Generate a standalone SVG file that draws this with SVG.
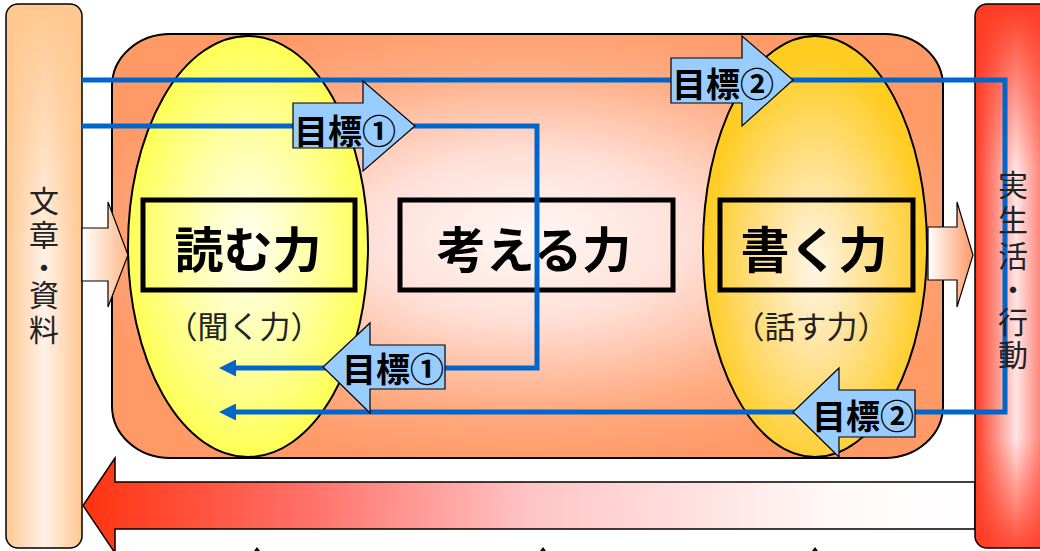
<svg xmlns="http://www.w3.org/2000/svg" width="1040" height="551" viewBox="0 0 1040 551">
<style>
.jp{font-family:"Noto Sans CJK JP","Noto Sans CJK SC",sans-serif;}
.big{font-size:49px;font-weight:bold;fill:#000;text-anchor:middle;}
.sub{font-size:31px;fill:#222;text-anchor:middle;}
.vt{font-size:30px;fill:#222;text-anchor:middle;}
.goal{font-size:34px;font-weight:bold;fill:#000;}
.box{fill:none;stroke:#000;stroke-width:5;}
.barrow{fill:#99CCFF;stroke:#000;stroke-width:1.2;}
.blue{fill:none;stroke:#0066CC;stroke-width:5;}
</style>
<defs>
<radialGradient id="gCenter" cx="0.5" cy="0.48" r="0.55">
<stop offset="0" stop-color="#FFF8F6"/>
<stop offset="0.35" stop-color="#FFE0D8"/>
<stop offset="0.75" stop-color="#FFAA80"/>
<stop offset="1" stop-color="#FF9966"/>
</radialGradient>
<radialGradient id="gYellow" cx="0.5" cy="0.5" r="0.5">
<stop offset="0" stop-color="#FFFFF4"/>
<stop offset="0.5" stop-color="#FFFFAA"/>
<stop offset="1" stop-color="#FFFF55"/>
</radialGradient>
<radialGradient id="gGold" cx="0.5" cy="0.55" r="0.5">
<stop offset="0" stop-color="#FFF6E8"/>
<stop offset="0.5" stop-color="#FFE08A"/>
<stop offset="1" stop-color="#FFCC22"/>
</radialGradient>
<linearGradient id="gLeftPanel" x1="0" y1="0" x2="1" y2="0">
<stop offset="0" stop-color="#FFC890"/>
<stop offset="0.5" stop-color="#FFF2E8"/>
<stop offset="1" stop-color="#FFC890"/>
</linearGradient>
<linearGradient id="gLeftTop" x1="0" y1="0" x2="0" y2="1">
<stop offset="0" stop-color="#FFC890" stop-opacity="1"/>
<stop offset="0.45" stop-color="#FFC890" stop-opacity="0"/>
</linearGradient>
<linearGradient id="gRightPanel" x1="975" y1="0" x2="1050" y2="0" gradientUnits="userSpaceOnUse">
<stop offset="0" stop-color="#FF3A22"/>
<stop offset="0.55" stop-color="#FFE4E4"/>
<stop offset="1" stop-color="#FF6050"/>
</linearGradient>
<linearGradient id="gRightTop" x1="0" y1="0" x2="0" y2="1">
<stop offset="0" stop-color="#FF3A22" stop-opacity="1"/>
<stop offset="0.3" stop-color="#FF3A22" stop-opacity="0"/>
<stop offset="0.8" stop-color="#FF3A22" stop-opacity="0"/>
<stop offset="1" stop-color="#FF3A22" stop-opacity="0.9"/>
</linearGradient>
<linearGradient id="gBottom" x1="83" y1="0" x2="975" y2="0" gradientUnits="userSpaceOnUse">
<stop offset="0" stop-color="#FF3311"/>
<stop offset="0.25" stop-color="#FF7068"/>
<stop offset="0.5" stop-color="#FFC4C4"/>
<stop offset="0.85" stop-color="#FFFAFA"/>
<stop offset="1" stop-color="#FFFFFF"/>
</linearGradient>
<linearGradient id="gIn" x1="82" y1="0" x2="128" y2="0" gradientUnits="userSpaceOnUse">
<stop offset="0" stop-color="#FFFFFF"/>
<stop offset="1" stop-color="#FFB888"/>
</linearGradient>
<linearGradient id="gOut" x1="928" y1="0" x2="973" y2="0" gradientUnits="userSpaceOnUse">
<stop offset="0" stop-color="#FFFFFF"/>
<stop offset="1" stop-color="#FF9966"/>
</linearGradient>
<marker id="ah" markerUnits="userSpaceOnUse" markerWidth="17" markerHeight="17" refX="9" refY="8.5" orient="auto">
<path d="M0,0 L17,8.5 L0,17 z" fill="#0066CC"/>
</marker>
</defs>

<g id="center-area">
<rect x="112" y="34" width="831" height="424" rx="58" ry="52" fill="url(#gCenter)" stroke="#000" stroke-width="2"/>
</g>

<g id="reading">
<ellipse cx="248" cy="246.5" rx="120" ry="210.5" fill="url(#gYellow)" stroke="#000" stroke-width="2"/>
<rect class="box" x="143" y="200" width="212" height="90"/>
<text class="jp big" x="248" y="268">読む力</text>
<text class="jp sub" x="244" y="338">（聞く力）</text>
</g>

<g id="thinking">
<rect class="box" x="400" y="200" width="273" height="90"/>
<text class="jp big" x="534" y="268">考える力</text>
</g>

<g id="writing">
<ellipse cx="815" cy="246.5" rx="112" ry="210.5" fill="url(#gGold)" stroke="#000" stroke-width="2"/>
<rect class="box" x="720" y="200" width="193" height="90"/>
<text class="jp big" x="814" y="268">書く力</text>
<text class="jp sub" x="811" y="338">（話す力）</text>
</g>

<g id="bottom-arrow">
<polygon points="975,482 115,482 115,458 83,505.5 115,553 115,529 975,529" fill="url(#gBottom)" stroke="#000" stroke-width="1.5"/>
<polygon points="257,547 254,551 260,551" fill="#000"/>
<polygon points="543,547 540,551 546,551" fill="#000"/>
<polygon points="815,547 812,551 818,551" fill="#000"/>
</g>

<g id="left-panel">
<rect x="6" y="4" width="76" height="544" rx="12" fill="url(#gLeftPanel)"/>
<rect x="6" y="4" width="76" height="544" rx="12" fill="url(#gLeftTop)"/>
<rect x="6" y="4" width="76" height="544" rx="12" fill="none" stroke="#000" stroke-width="1.5"/>
</g>

<g id="right-panel">
<rect x="975" y="4" width="90" height="544" rx="12" fill="url(#gRightPanel)"/>
<rect x="975" y="4" width="90" height="544" rx="12" fill="url(#gRightTop)"/>
<rect x="975" y="4" width="90" height="544" rx="12" fill="none" stroke="#000" stroke-width="1.5"/>
</g>

<g id="in-arrow">
<polygon points="82,228 108,228 108,202 128,255 108,307 108,281 82,281" fill="url(#gIn)" stroke="#000" stroke-width="1.2"/>
</g>
<g id="out-arrow">
<polygon points="928,227 957,227 957,202 973,255 957,307 957,280 928,280" fill="url(#gOut)" stroke="#000" stroke-width="1.2"/>
</g>

<g id="connectors">
<path class="blue" d="M82,80 H1005 V412 H227" marker-end="url(#ah)"/>
<path class="blue" d="M82,126 H537 V368 H227" marker-end="url(#ah)"/>
</g>

<g id="goal1-top">
<polygon class="barrow" points="293,103 363,103 363,81 415,126 363,171 363,148 293,148"/>
<text class="jp goal" x="294" y="144">目標①</text>
</g>
<g id="goal2-top">
<polygon class="barrow" points="671,58 742,58 742,36 793,80 742,126 742,103 671,103"/>
<text class="jp goal" x="672" y="97">目標②</text>
</g>
<g id="goal1-bottom">
<polygon class="barrow" points="445,345 370,345 370,323 323,367 370,413 370,389 445,389"/>
<text class="jp goal" x="342" y="382">目標①</text>
</g>
<g id="goal2-bottom">
<polygon class="barrow" points="915,390 839,390 839,368 793,412 839,457 839,437 915,437"/>
<text class="jp goal" x="812" y="429">目標②</text>
</g>

<g id="left-label">
<text class="jp vt" x="44" y="212">文</text>
<text class="jp vt" x="44" y="246">章</text>
<text class="jp vt" x="44" y="279">・</text>
<text class="jp vt" x="44" y="306">資</text>
<text class="jp vt" x="44" y="341">料</text>
</g>
<g id="right-label">
<text class="jp vt" x="1013" y="196">実</text>
<text class="jp vt" x="1013" y="231">生</text>
<text class="jp vt" x="1013" y="267">活</text>
<text class="jp vt" x="1013" y="301">・</text>
<text class="jp vt" x="1013" y="333">行</text>
<text class="jp vt" x="1013" y="366">動</text>
</g>
</svg>
